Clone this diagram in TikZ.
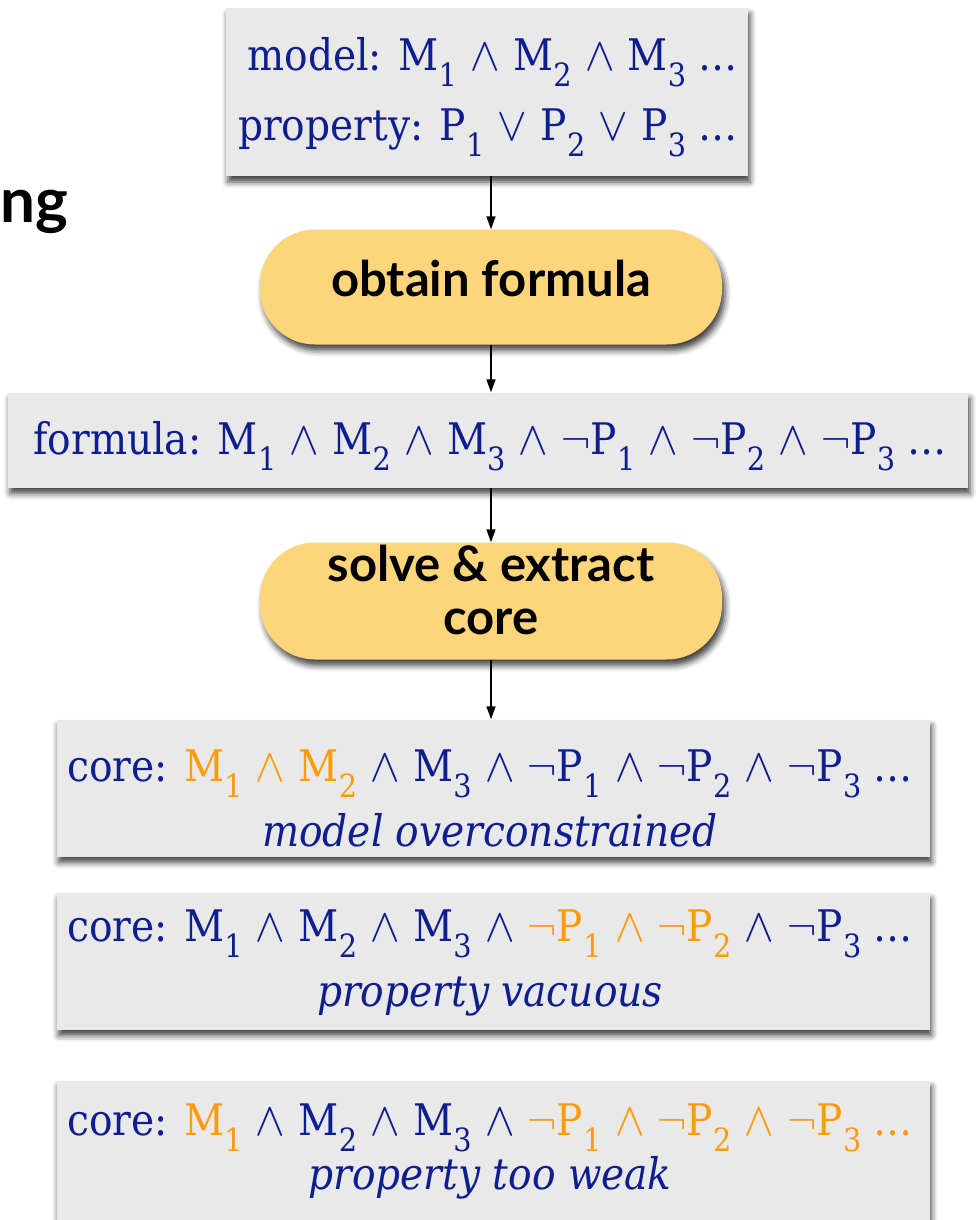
\documentclass[tikz,border=0pt]{standalone}
\usepackage{fontspec}
\setmainfont{DejaVu Serif Condensed}
\newfontfamily\headfont{Lato}[BoldFont={Lato Bold}]
\newfontfamily\symfont{latinmodern-math.otf}
\usetikzlibrary{arrows.meta,shadows.blur}
\definecolor{navy}{HTML}{0E1E8E}
\definecolor{corange}{HTML}{FF9A0A}
\definecolor{boxgray}{HTML}{E9E9E9}
\definecolor{pillyellow}{HTML}{FDD57A}
\newcommand\txtsize{\fontsize{43.5}{60}\selectfont}
\newcommand\sbs[1]{\raisebox{-0.38em}{\fontsize{32}{32}\selectfont #1}}
\newcommand\Mv[1]{M\sbs{#1}}
\newcommand\Pv[1]{P\sbs{#1}}
\newcommand\nPv[1]{{\symfont ¬}P\sbs{#1}}
\newcommand\aand{ {\symfont\fontsize{47}{47}\selectfont ∧} }
\newcommand\oor{ {\symfont\fontsize{47}{47}\selectfont ∨} }
\newcommand\hl[1]{\textcolor{corange}{#1}}
\begin{document}
\begin{tikzpicture}[x=1pt,y=-1pt,
  graybox/.style={fill=boxgray, draw=none, inner sep=0pt,
    blur shadow={shadow xshift=2pt, shadow yshift=-6pt, shadow blur radius=6pt, shadow opacity=75}},
  pill/.style={fill=pillyellow, draw=none, rounded corners=55pt, inner sep=0pt,
    blur shadow={shadow xshift=3pt, shadow yshift=-6pt, shadow blur radius=6pt, shadow opacity=75}},
  txt/.style={text=navy, font=\txtsize, inner sep=0pt},
  headtxt/.style={font=\headfont\bfseries\fontsize{49}{58}\selectfont, inner sep=0pt, text=black},
  flow/.style={-{Triangle[width=9pt,length=13pt]}, line width=1.6pt, black}]
\useasboundingbox (0,0) rectangle (978,1220);
\clip (0,0) rectangle (978,1220);

\node[font=\headfont\bfseries\fontsize{62}{62}\selectfont, anchor=base west, inner sep=0pt] (title) at (0,222) {ng};

% boxes
\node[graybox, minimum width=522pt, minimum height=168pt] (model) at (487,92) {};
\node[pill, minimum width=462pt, minimum height=115pt] (obtain) at (491,287) {};
\node[graybox, minimum width=960pt, minimum height=95pt] (formula) at (488,440) {};
\node[pill, minimum width=462pt, minimum height=117pt] (solve) at (491,601) {};
\node[graybox, minimum width=873pt, minimum height=137pt] (core1) at (493,788) {};
\node[graybox, minimum width=873pt, minimum height=137pt] (core2) at (493,961) {};
\node[graybox, minimum width=873pt, minimum height=145pt] (core3) at (493,1153) {};

% texts
\node[txt, anchor=east] (model-a) at (738,62) {model: \Mv1\aand\Mv2\aand\Mv3 …};
\node[txt, anchor=east] (model-b) at (738,133) {property: \Pv1\oor\Pv2\oor\Pv3 …};
\node[headtxt] (obtain-t) at (491,278) {obtain formula};
\node[txt] (formula-t) at (490,446) {formula: \Mv1\aand\Mv2\aand\Mv3\aand\nPv1\aand\nPv2\aand\nPv3 …};
\node[headtxt] (solve-a) at (491,563) {solve \& extract};
\node[headtxt] (solve-b) at (491,622) {core};
\node[txt] (core1-a) at (490,774) {core: \hl{\Mv1\aand\Mv2}\aand\Mv3\aand\nPv1\aand\nPv2\aand\nPv3 …};
\node[txt, font=\txtsize\itshape] (core1-b) at (490,830) {model overconstrained};
\node[txt] (core2-a) at (490,934) {core: \Mv1\aand\Mv2\aand\Mv3\aand\hl{\nPv1\aand\nPv2}\aand\nPv3 …};
\node[txt, font=\txtsize\itshape] (core2-b) at (490,997) {property vacuous};
\node[txt] (core3-a) at (490,1128) {core: \hl{\Mv1}\aand\Mv2\aand\Mv3\aand\hl{\nPv1\aand\nPv2\aand\nPv3 …}};
\node[txt, font=\txtsize\itshape] (core3-b) at (490,1178) {property too weak};

% connectors
\draw[flow] (model.south -| obtain.north) -- (obtain.north);
\draw[flow] (obtain.south) -- (formula.north -| obtain.south);
\draw[flow] (formula.south -| solve.north) -- (solve.north);
\draw[flow] (solve.south) -- (core1.north -| solve.south);
\end{tikzpicture}
\end{document}
